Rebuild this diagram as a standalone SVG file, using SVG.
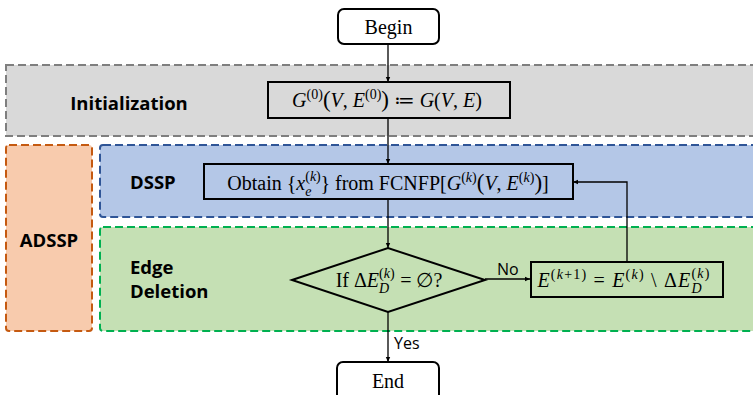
<svg xmlns="http://www.w3.org/2000/svg" width="753" height="395" viewBox="0 0 753 395">
<style>
.band{stroke-width:2;stroke-dasharray:8 4}
.lbl{font-family:"Open Sans","Noto Sans",sans-serif;font-weight:bold;font-size:18.5px;fill:#000}
.sm{font-family:"Open Sans","Noto Sans",sans-serif;font-size:16px;fill:#000}
.box{fill:none;stroke:#000;stroke-width:2}
.tx{font-family:"Liberation Serif","DejaVu Serif",serif;font-size:20px;fill:#000}
.i{font-style:italic}
.s{font-size:14px}
.p{font-size:23px}
.conn{stroke:#000;stroke-width:1.3;fill:none}
</style>
<defs>
<marker id="ah" markerWidth="6" markerHeight="6" refX="5" refY="3" orient="auto" markerUnits="userSpaceOnUse">
<path d="M0,0.8 L5,3 L0,5.2 Z" fill="#000"/>
</marker>
</defs>
<rect x="-0.5" y="-0.5" width="754" height="396" fill="#fff"/>
<g id="band-init">
<rect class="band" x="6" y="65" width="760" height="71" fill="#D9D9D9" stroke="#7F7F7F"/>
<text class="lbl" x="129" y="110" text-anchor="middle">Initialization</text>
</g>
<g id="band-adssp">
<rect class="band" x="6" y="145" width="86" height="186" rx="3" fill="#F8CBAD" stroke="#C55A11"/>
<text class="lbl" x="49" y="247" text-anchor="middle" font-size="19.5">ADSSP</text>
</g>
<g id="band-dssp">
<rect class="band" x="100" y="145" width="666" height="72" rx="3" fill="#B4C7E7" stroke="#2F5597"/>
<text class="lbl" x="130" y="189">DSSP</text>
</g>
<g id="band-edge">
<rect class="band" x="100" y="227" width="666" height="104" rx="3" fill="#C5E0B4" stroke="#00B050"/>
<text class="lbl" x="130" y="274">Edge</text>
<text class="lbl" x="130" y="298">Deletion</text>
</g>
<g id="connectors">
<line class="conn" x1="388" y1="44" x2="388" y2="82" marker-end="url(#ah)"/>
<line class="conn" x1="388" y1="118" x2="388" y2="164" marker-end="url(#ah)"/>
<line class="conn" x1="388" y1="199" x2="388" y2="248" marker-end="url(#ah)"/>
<line class="conn" x1="388" y1="312" x2="388" y2="362" marker-end="url(#ah)"/>
<line class="conn" x1="485" y1="279" x2="530" y2="279" marker-end="url(#ah)"/>
<polyline class="conn" points="627,262 627,182 573,182" marker-end="url(#ah)"/>
<text class="sm" x="497" y="275">No</text>
<text class="sm" x="394" y="349">Yes</text>
</g>
<g id="begin">
<rect class="box" x="338" y="9" width="101" height="35" rx="6" fill="#fff"/>
<text class="tx" x="388.5" y="34" text-anchor="middle" font-size="19">Begin</text>
</g>
<g id="init">
<rect class="box" x="268" y="82" width="242" height="36"/>
<text class="tx" x="387" y="107" text-anchor="middle"><tspan class="i">G</tspan><tspan class="s" dy="-8">(0)</tspan><tspan class="p" dy="8">(</tspan><tspan class="i">V</tspan>, <tspan class="i">E</tspan><tspan class="s" dy="-8">(0)</tspan><tspan class="p" dy="8">)</tspan> ≔ <tspan class="i">G</tspan>(<tspan class="i">V</tspan>, <tspan class="i">E</tspan>)</text>
</g>
<g id="obtain">
<rect class="box" x="204" y="164" width="369" height="35"/>
<text class="tx" x="388" y="190" text-anchor="middle">Obtain {<tspan class="i">x</tspan><tspan class="s" dy="-9">(<tspan class="i">k</tspan>)</tspan><tspan class="i s" dx="-15.6" dy="15">e</tspan><tspan dx="9" dy="-6">} from FCNFP[</tspan><tspan class="i">G</tspan><tspan class="s" dy="-8">(<tspan class="i">k</tspan>)</tspan><tspan class="p" dy="8">(</tspan><tspan class="i">V</tspan>, <tspan class="i">E</tspan><tspan class="s" dy="-8">(<tspan class="i">k</tspan>)</tspan><tspan class="p" dy="8">)</tspan>]</text>
</g>
<g id="decision">
<polygon points="292,280 388,248 485,280 388,312" fill="none" stroke="#000" stroke-width="2"/>
<text class="tx" x="389" y="287" text-anchor="middle">If Δ<tspan class="i">E</tspan><tspan class="s" dy="-9">(<tspan class="i">k</tspan>)</tspan><tspan class="i s" dx="-15.6" dy="15">D</tspan><tspan dx="6" dy="-6"> = ∅?</tspan></text>
</g>
<g id="update">
<rect class="box" x="531" y="262" width="192" height="35"/>
<text class="tx" x="624" y="287" text-anchor="middle" letter-spacing="1.2"><tspan class="i">E</tspan><tspan class="s" dy="-8">(<tspan class="i">k</tspan>+1)</tspan><tspan dy="8"> = </tspan><tspan class="i">E</tspan><tspan class="s" dy="-8">(<tspan class="i">k</tspan>)</tspan><tspan dy="8"> \ Δ</tspan><tspan class="i">E</tspan><tspan class="s" dy="-9">(<tspan class="i">k</tspan>)</tspan><tspan class="i s" dx="-19" dy="15">D</tspan><tspan dx="8" dy="-6"> </tspan></text>
</g>
<g id="end">
<rect class="box" x="337" y="362" width="102" height="40" rx="6" fill="#fff"/>
<text class="tx" x="388" y="388" text-anchor="middle" font-size="19">End</text>
</g>
</svg>
